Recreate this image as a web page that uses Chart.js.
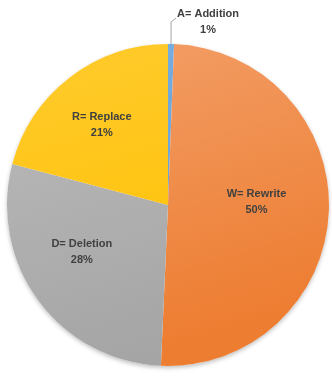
<!DOCTYPE html>
<html>
<head>
<meta charset="utf-8">
<script src="https://cdn.jsdelivr.net/npm/chart.js@4"></script>
<style>
html,body{margin:0;padding:0;background:#fff;}
#wrap{width:332px;height:376px;position:relative;}
</style>
</head>
<body>
<div id="wrap"><canvas id="c" width="332" height="376"></canvas></div>
<script>
// Data
const categories = ["A= Addition", "W= Rewrite", "D= Deletion", "R= Replace"];
const shares = [0.6, 50.1, 28.4, 20.9];
const percentLabels = ["1%", "50%", "28%", "21%"];

// Styles
const baseColors = ["#5B9BD5", "#ED7D31", "#A5A5A5", "#FFC000"];
const lightColors = ["#7BAFE0", "#F3A06A", "#BCBCBC", "#FFCB2E"];
// label placement: [radius fraction, angle offset in degrees]; A is outside
const placement = [null, [0.55, -4], [0.61, 7.7], [0.645, -2]];

function sliceFill(ctx) {
  const chart = ctx.chart;
  const a = chart.chartArea;
  if (!a) return baseColors[ctx.dataIndex];
  const g = chart.ctx.createLinearGradient(a.left, a.top, a.left + a.width * 0.3, a.bottom);
  g.addColorStop(0, lightColors[ctx.dataIndex]);
  g.addColorStop(1, baseColors[ctx.dataIndex]);
  return g;
}

const labelPlugin = {
  id: 'sliceLabels',
  beforeDatasetsDraw(chart) {
    const ctx = chart.ctx;
    const meta = chart.getDatasetMeta(0);
    const arc = meta.data[0];
    if (!arc) return;
    ctx.save();
    ctx.shadowColor = 'rgba(0,0,0,0.25)';
    ctx.shadowBlur = 4;
    ctx.shadowOffsetY = 2;
    ctx.beginPath();
    ctx.arc(arc.x, arc.y, arc.outerRadius, 0, Math.PI * 2);
    ctx.fillStyle = '#ffffff';
    ctx.fill();
    ctx.restore();
  },
  afterDatasetsDraw(chart) {
    const ctx = chart.ctx;
    const meta = chart.getDatasetMeta(0);
    ctx.save();
    ctx.font = 'bold 11px "Liberation Sans", Arial, sans-serif';
    ctx.fillStyle = '#404040';
    ctx.textAlign = 'center';
    ctx.textBaseline = 'middle';
    meta.data.forEach((el, i) => {
      const p = el.getProps(['x', 'y', 'startAngle', 'endAngle', 'outerRadius']);
      const mid = (p.startAngle + p.endAngle) / 2;
      if (placement[i]) {
        const ang = mid + placement[i][1] * Math.PI / 180;
        const r = p.outerRadius * placement[i][0];
        const cx = p.x + Math.cos(ang) * r;
        const cy = p.y + Math.sin(ang) * r;
        ctx.fillText(categories[i], cx, cy - 8);
        ctx.fillText(percentLabels[i], cx, cy + 8);
      } else {
        // outside label with leader line
        const ex = p.x + Math.cos(mid) * p.outerRadius;
        const ey = p.y + Math.sin(mid) * p.outerRadius;
        const bx = ex;
        const by = ey - 22;
        const tx = ex + 37;
        const ty = ey - 30;
        ctx.strokeStyle = '#A6A6A6';
        ctx.lineWidth = 1;
        ctx.beginPath();
        ctx.moveTo(ex, ey);
        ctx.lineTo(bx, by);
        ctx.lineTo(bx + 5, by - 4);
        ctx.stroke();
        ctx.fillText(categories[i], tx, ty);
        ctx.fillText(percentLabels[i], tx, ty + 16);
      }
    });
    ctx.restore();
  }
};

new Chart(document.getElementById('c'), {
  type: 'pie',
  data: {
    labels: categories,
    datasets: [{
      data: shares,
      backgroundColor: sliceFill,
      borderWidth: 0
    }]
  },
  options: {
    responsive: false,
    animation: false,
    layout: { padding: { top: 44, bottom: 10, left: 7, right: 3 } },
    plugins: {
      legend: { display: false },
      tooltip: { enabled: false }
    }
  },
  plugins: [labelPlugin]
});
</script>
</body>
</html>
